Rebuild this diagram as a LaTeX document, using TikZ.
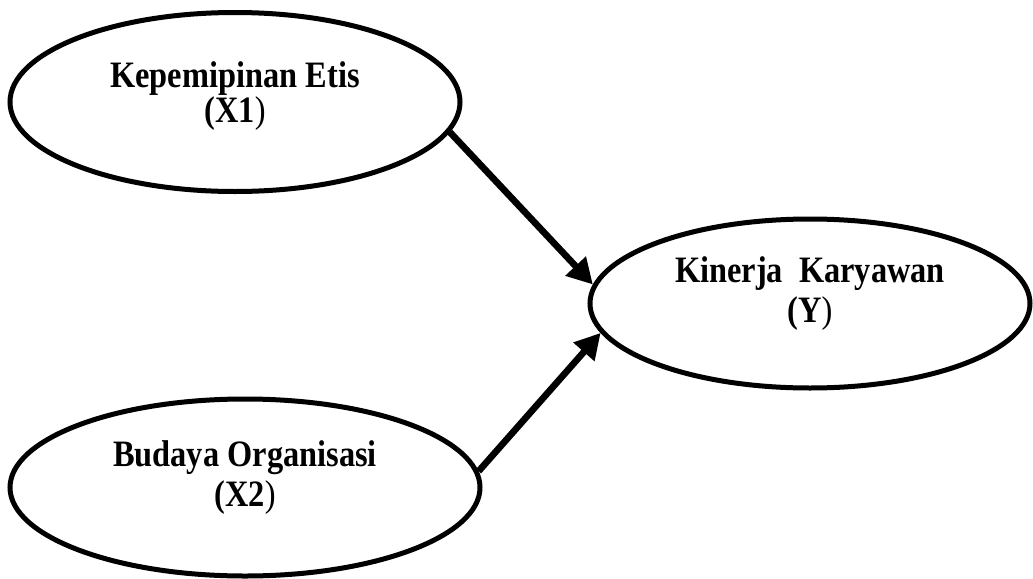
\documentclass[tikz,border=0pt]{standalone}
\usepackage{fontspec}
\usepackage{graphicx}
\setmainfont{Liberation Serif}
\usetikzlibrary{shapes.geometric, arrows.meta, positioning}

% text in the source image is drawn a little taller than wide,
% keep the unscaled height and depth for line spacing
\newcommand{\tallbox}[1]{\sbox0{#1}\raisebox{0pt}[\ht0][\dp0]{\scalebox{1}[1.15]{#1}}}

\begin{document}
\begin{tikzpicture}[
  x=0.75pt, y=-0.75pt,
  var/.style={ellipse, draw=black, line width=3.75pt, align=center,
              font=\fontsize{24.3}{30}\selectfont\bfseries, inner sep=0pt},
  arr/.style={-{Triangle[length=19pt,width=20pt]}, line width=5pt, black}
]
\useasboundingbox (0,0) rectangle (1033,579);

\node[var, minimum width=337.5pt, minimum height=134.25pt, text depth=12pt] (etis) at (235,102)
  {\tallbox{Kepemipinan Etis}\\[-4pt]\tallbox{(X1{\mdseries)}}};
\node[var, minimum width=330pt, minimum height=126.75pt, text depth=18pt] (kinerja) at (810,303.5)
  {\tallbox{Kinerja\ \ Karyawan}\\\tallbox{(Y{\mdseries)}}};
\node[var, minimum width=352.5pt, minimum height=132.75pt, text depth=18pt] (budaya) at (245,487.5)
  {\tallbox{Budaya Organisasi}\\\tallbox{(X2{\mdseries)}}};

\draw[arr] (etis.-8) -- (kinerja.175);
\draw[arr] (budaya.4) -- (kinerja.188);
\end{tikzpicture}
\end{document}
